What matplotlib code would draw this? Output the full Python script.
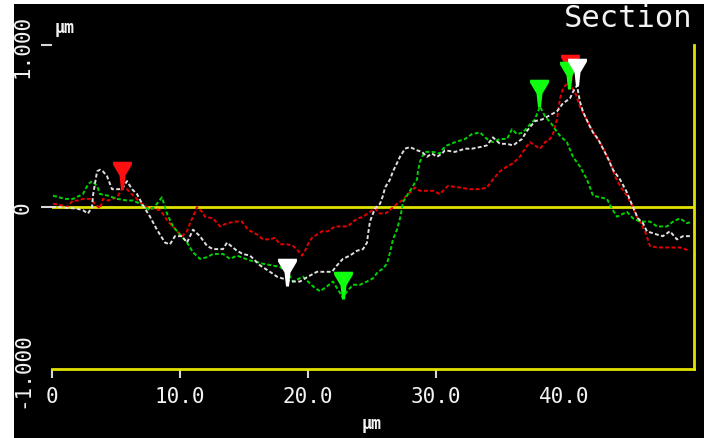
import numpy as np
import matplotlib.pyplot as plt
from matplotlib.path import Path

# section profiles (um)
white_x = [0.0, 0.47, 1.95, 2.42, 2.81, 3.13, 3.20, 3.52, 3.75, 3.98, 4.30, 4.69, 5.08, 5.47, 5.86,
           6.25, 6.64, 7.11, 7.66, 8.20, 8.83, 9.22, 9.61, 10.16, 10.55, 11.02, 11.56, 12.11, 12.58,
           13.36, 13.67, 14.45, 14.92, 15.47, 16.25, 17.03, 17.58, 18.36, 18.83, 19.38, 20.00, 20.70,
           21.48, 21.88, 22.27, 22.73, 23.28, 23.83, 24.30, 24.61, 24.69, 24.84, 25.23, 25.63, 25.86,
           26.02, 26.41, 26.64, 26.95, 27.19, 27.58, 27.97, 28.52, 28.91, 29.30, 29.69, 30.08, 30.47,
           30.70, 31.48, 32.27, 32.81, 33.44, 33.98, 34.45, 35.00, 35.55, 36.02, 36.72, 37.11, 37.73,
           38.28, 38.75, 39.45, 39.92, 40.47, 40.70, 41.02, 41.25, 41.48, 41.88, 42.27, 42.66, 43.05,
           43.44, 43.83, 44.38, 44.92, 45.39, 45.78, 46.17, 46.48, 47.27, 47.73, 48.28, 48.83, 49.30,
           49.84]
white_y = [0.00, 0.00, -0.01, -0.02, -0.04, 0.00, 0.07, 0.22, 0.23, 0.22, 0.19, 0.11, 0.11, 0.11, 0.16,
           0.11, 0.08, 0.01, -0.06, -0.14, -0.22, -0.23, -0.18, -0.18, -0.22, -0.14, -0.18, -0.24, -0.26,
           -0.26, -0.22, -0.27, -0.29, -0.30, -0.36, -0.40, -0.43, -0.45, -0.46, -0.46, -0.43, -0.40,
           -0.40, -0.40, -0.36, -0.32, -0.30, -0.27, -0.26, -0.22, -0.17, -0.09, -0.01, 0.02, 0.07,
           0.12, 0.17, 0.22, 0.27, 0.31, 0.36, 0.37, 0.35, 0.34, 0.31, 0.33, 0.31, 0.33,
           0.35, 0.34, 0.36, 0.36, 0.37, 0.38, 0.43, 0.39, 0.39, 0.38, 0.42, 0.47, 0.53,
           0.54, 0.56, 0.59, 0.64, 0.67, 0.71, 0.75, 0.65, 0.59, 0.52, 0.46, 0.42, 0.36,
           0.30, 0.23, 0.17, 0.09, 0.00, -0.07, -0.10, -0.15, -0.17, -0.18, -0.15, -0.20, -0.18,
           -0.18]

green_x = [0.08, 1.02, 1.64, 2.42, 2.81, 3.13, 3.52, 3.75, 4.38, 5.08, 5.86, 6.33, 6.88, 7.66, 8.20,
           8.59, 8.98, 9.45, 10.00, 10.55, 11.02, 11.56, 12.11, 12.58, 13.36, 13.91, 14.45, 15.47,
           16.02, 16.48, 17.81, 18.36, 18.83, 19.61, 20.39, 20.94, 21.48, 21.95, 22.73, 23.05, 23.52,
           24.06, 24.61, 25.08, 25.47, 25.86, 26.17, 26.41, 26.64, 26.95, 27.19, 27.34, 27.42, 27.73,
           27.97, 28.20, 28.52, 28.59, 28.75, 28.91, 29.14, 29.77, 30.31, 30.55, 30.86, 31.48, 32.27,
           32.81, 33.44, 33.98, 34.45, 35.00, 35.55, 35.94, 36.33, 36.80, 37.11, 37.34, 37.73, 37.97,
           38.13, 38.52, 39.06, 39.30, 39.69, 40.23, 40.70, 41.25, 41.80, 42.27, 42.81, 43.36, 43.75,
           44.14, 44.92, 45.39, 45.94, 46.72, 47.27, 48.05, 48.52, 49.06, 49.61, 50.00]
green_y = [0.07, 0.05, 0.05, 0.08, 0.14, 0.16, 0.13, 0.08, 0.07, 0.05, 0.04, 0.04, 0.02, -0.02, 0.02,
           0.06, -0.04, -0.12, -0.17, -0.22, -0.28, -0.32, -0.31, -0.29, -0.29, -0.32, -0.30, -0.33,
           -0.34, -0.35, -0.37, -0.40, -0.46, -0.43, -0.49, -0.52, -0.49, -0.46, -0.56, -0.52, -0.48,
           -0.48, -0.46, -0.44, -0.40, -0.38, -0.35, -0.28, -0.20, -0.14, -0.07, -0.01, 0.03, 0.07,
           0.10, 0.13, 0.17, 0.22, 0.28, 0.31, 0.34, 0.34, 0.33, 0.36, 0.38, 0.40, 0.42,
           0.45, 0.46, 0.42, 0.40, 0.42, 0.42, 0.48, 0.45, 0.46, 0.49, 0.51, 0.54, 0.59,
           0.62, 0.56, 0.51, 0.48, 0.44, 0.40, 0.31, 0.25, 0.17, 0.07, 0.06, 0.05, -0.01,
           -0.06, -0.03, -0.07, -0.09, -0.09, -0.12, -0.12, -0.09, -0.07, -0.10, -0.09]

red_x = [0.08, 0.78, 1.17, 1.64, 2.03, 2.42, 2.97, 3.75, 3.98, 4.38, 5.08, 5.47, 5.86, 6.09, 6.48,
         6.88, 7.42, 7.89, 8.44, 8.83, 9.06, 9.45, 9.77, 10.16, 10.55, 10.78, 11.02, 11.33, 11.72,
         11.95, 12.58, 13.13, 13.67, 14.30, 14.84, 15.31, 16.02, 16.48, 17.03, 17.42, 17.81, 18.36,
         18.83, 19.22, 19.53, 19.77, 20.00, 20.31, 20.70, 21.09, 21.56, 22.11, 22.66, 23.13, 23.52,
         23.91, 24.30, 24.84, 25.23, 25.63, 26.02, 26.25, 26.95, 27.34, 27.58, 27.97, 28.36, 28.75,
         29.30, 29.77, 30.31, 30.55, 30.94, 31.88, 32.66, 33.44, 33.98, 34.45, 35.00, 35.55, 36.02,
         36.56, 36.95, 37.34, 37.73, 38.13, 38.52, 38.91, 39.14, 39.45, 39.69, 39.92, 40.31, 40.86,
         41.25, 41.64, 42.03, 42.42, 42.81, 43.20, 43.59, 43.98, 44.38, 44.92, 45.31, 45.70, 45.94,
         46.33, 46.72, 47.27, 48.05, 48.52, 49.06, 49.84]
red_y = [0.02, 0.01, 0.00, 0.04, 0.04, 0.05, 0.05, -0.01, 0.05, 0.04, 0.06, 0.11, 0.11, 0.09, 0.06,
         0.03, 0.00, -0.01, -0.02, -0.06, -0.09, -0.12, -0.15, -0.18, -0.15, -0.10, -0.06, 0.00, -0.03,
         -0.06, -0.07, -0.12, -0.10, -0.09, -0.09, -0.14, -0.17, -0.20, -0.20, -0.19, -0.23, -0.23,
         -0.24, -0.27, -0.30, -0.27, -0.23, -0.19, -0.17, -0.15, -0.15, -0.12, -0.12, -0.12, -0.09,
         -0.07, -0.06, -0.03, -0.01, -0.04, -0.04, -0.03, 0.02, 0.04, 0.06, 0.09, 0.12, 0.10,
         0.10, 0.10, 0.08, 0.10, 0.13, 0.12, 0.11, 0.11, 0.12, 0.17, 0.22, 0.25, 0.27,
         0.31, 0.36, 0.40, 0.38, 0.36, 0.40, 0.42, 0.45, 0.54, 0.67, 0.73, 0.77, 0.71,
         0.62, 0.56, 0.50, 0.44, 0.40, 0.34, 0.28, 0.19, 0.13, 0.07, 0.01, -0.06, -0.09,
         -0.15, -0.24, -0.25, -0.25, -0.25, -0.25, -0.27]

# cursor positions (tip of each marker)
cursor_x = [5.47, 18.36, 22.73, 38.05, 40.47, 40.40, 41.02]
cursor_y = [0.11, -0.49, -0.57, 0.62, 0.77, 0.73, 0.75]
cursor_c = ['#ff1010', '#ffffff', '#10ff10', '#10ff10', '#ff1010', '#10ff10', '#ffffff']

W, H = 704, 439
yellow = '#e2e200'
txt = '#f2f2f2'

fig = plt.figure(figsize=(W / 100, H / 100), dpi=100)
fig.patch.set_facecolor('white')

# black screen area
bg = fig.add_axes([14 / W, 0, (W - 14) / W, 434 / H])
bg.set_facecolor('black')
bg.set_xticks([])
bg.set_yticks([])
for s in bg.spines.values():
    s.set_visible(False)

ax = fig.add_axes([52 / W, 69 / H, 642 / W, 324 / H])
ax.patch.set_visible(False)
ax.set_xlim(0, 50.16)
ax.set_ylim(-1, 1)
for s in ['top', 'left']:
    ax.spines[s].set_visible(False)
for s in ['bottom', 'right']:
    ax.spines[s].set_color(yellow)
    ax.spines[s].set_linewidth(2)
ax.axhline(0, color=yellow, lw=2, zorder=1)

mono = 'DejaVu Sans Mono'
ax.set_xticks([0, 10, 20, 30, 40])
ax.set_xticklabels(['0', '10.0', '20.0', '30.0', '40.0'], family=mono, fontsize=15, color=txt)
ax.tick_params(axis='x', direction='out', length=6.5, width=1.5, color='#d8d8d8', pad=6)
ax.xaxis.get_major_ticks()[-1].tick1line.set_visible(False)

ax.set_yticks([-1, 0, 1])
ax.set_yticklabels(['-1.000', '0', '1.000'], family=mono, fontsize=15, color=txt,
                   rotation=90, va='center')
ax.tick_params(axis='y', direction='out', length=8, width=1.5, color='#d8d8d8', pad=6)
ax.yaxis.get_major_ticks()[0].tick1line.set_visible(False)

dash = (0, (2.0, 1.2))
ax.plot(red_x, red_y, color='#e80000', lw=1.4, linestyle=dash, zorder=2)
ax.plot(green_x, green_y, color='#00d400', lw=1.4, linestyle=dash, zorder=3)
ax.plot(white_x, white_y, color='#e0e0e0', lw=1.4, linestyle=dash, zorder=4)

# funnel-shaped cursor marker, tip at the data point
funnel = Path([(-9.5, 28), (9.5, 28), (9.5, 25), (3, 14), (1.5, 0), (-1.5, 0), (-3, 14),
               (-9.5, 25), (-9.5, 28)], closed=True)
for cx, cy, cc in zip(cursor_x, cursor_y, cursor_c):
    ax.plot(cx, cy, marker=funnel, markersize=40, color=cc, markeredgewidth=0, zorder=5,
            linestyle='none')

fig.text(65 / W, 411 / H, 'µm', family=mono, fontsize=12, fontweight='bold', color=txt,
         ha='center', va='center')
fig.text(372 / W, 15 / H, 'µm', family=mono, fontsize=12, fontweight='bold', color=txt,
         ha='center', va='center')
fig.text(693 / W, 412 / H, 'Section', family=mono, fontsize=22, color=txt,
         ha='right', va='baseline')

# white margin along the top edge
fig.add_artist(plt.Rectangle((0, 434 / H), 1, 5 / H, transform=fig.transFigure,
                             facecolor='white', edgecolor='none', zorder=10))

fig.savefig('out.png', dpi=100, facecolor=fig.get_facecolor())
